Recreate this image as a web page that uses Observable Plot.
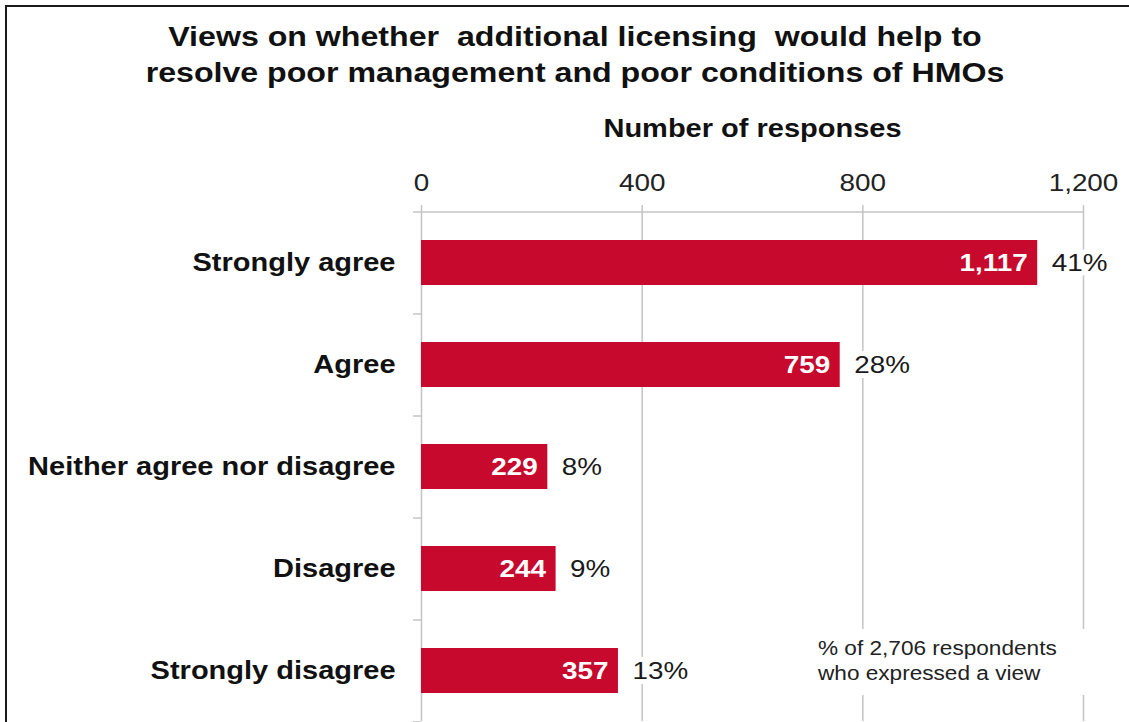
<!DOCTYPE html>
<html>
<head>
<meta charset="utf-8">
<script src="https://cdn.jsdelivr.net/npm/d3@7"></script>
<script src="https://cdn.jsdelivr.net/npm/@observablehq/plot@0.6"></script>
<style>
  html, body { margin: 0; padding: 0; background: #fff; }
  #wrap { position: relative; width: 1129px; height: 722px; overflow: hidden; background: #fff;
          font-family: "Liberation Sans", Arial, sans-serif; color: #111; }
  #frame { position: absolute; left: 5px; top: 5px; width: 1200px; height: 800px;
           border-left: 2px solid #1a1a1a; border-top: 2px solid #1a1a1a; pointer-events: none; z-index: 3; }
  #title { height: 100px; box-sizing: border-box; padding-top: 19px; margin-left: 20px; width: 1110px;
           font-size: 27px; font-weight: bold; line-height: 36px; text-align: center; white-space: pre; }
  #title div { transform: scaleX(1.19); transform-origin: center; }
  #note { position: absolute; left: 810px; top: 629px; width: 280px; height: 66px; background: #fff;
          box-sizing: border-box; padding: 7px 0 0 8px; font-size: 20px; line-height: 25px; color: #222; z-index: 2; }
  #note div { transform: scaleX(1.13); transform-origin: left center; white-space: nowrap; }
  #chart svg g[aria-label="x-axis label"] { font-weight: bold; font-size: 25px; fill: #111; }
</style>
</head>
<body>
<div id="wrap">
  <div id="frame"></div>
  <div id="title"><div>Views on whether  additional licensing  would help to</div><div>resolve poor management and poor conditions of HMOs</div></div>
  <div id="chart"></div>
  <div id="note"><div>% of 2,706 respondents</div><div>who expressed a view</div></div>
</div>
<script>
const categories = ["Strongly agree", "Agree", "Neither agree nor disagree", "Disagree", "Strongly disagree"];
const responses = [1117, 759, 229, 244, 357];
const percents = [41, 28, 8, 9, 13];
const xTicks = [0, 400, 800, 1200];
const axisTitle = "Number of responses";

const data = categories.map((c, i) => ({category: c, value: responses[i], pct: percents[i]}));

const W = 1129, H = 623, MT = 111, MB = 2, ML = 421, MR = 46;
const step = (H - MT - MB) / categories.length;
const grid = "#c4c4c4";
const red = "#c8092e";

const chart = Plot.plot({
  width: W,
  height: H,
  marginTop: MT,
  marginBottom: MB,
  marginLeft: ML,
  marginRight: MR,
  style: {fontFamily: "'Liberation Sans', Arial, sans-serif", fontSize: "24px", background: "transparent", color: "#222"},
  x: {domain: [0, 1200]},
  y: {domain: categories, paddingInner: 0.56, paddingOuter: 0.28},
  marks: [
    Plot.gridX({ticks: xTicks, stroke: grid, strokeOpacity: 1, strokeWidth: 1.5}),
    Plot.ruleY([categories[0]], {y: d => d, dy: -step / 2, insetLeft: -8, stroke: grid, strokeWidth: 1.5}),
    Plot.ruleY(categories.slice(1), {y: d => d, x1: 0, x2: 0, dy: -step / 2, insetLeft: -8, stroke: grid, strokeWidth: 1.5}),
    Plot.ruleY([categories[categories.length - 1]], {y: d => d, x1: 0, x2: 0, dy: step / 2, insetLeft: -8, stroke: grid, strokeWidth: 1.5}),
    Plot.axisX({anchor: "top", ticks: xTicks, tickFormat: d3.format(","), tickSize: 7, tickPadding: 14,
                stroke: grid, strokeWidth: 1.5, fill: "#222", fontSize: 24,
                label: axisTitle, labelAnchor: "center", labelOffset: 92, labelArrow: "none"}),
    Plot.axisY({tickSize: 0, tickPadding: 26, fontSize: 26, fontWeight: "bold", fill: "#111", label: null}),
    Plot.barX(data, {x: "value", y: "category", fill: red}),
    Plot.text(data, {x: "value", y: "category", text: d => d3.format(",")(d.value), textAnchor: "end", dx: -10,
                     fill: "white", fontWeight: "bold", fontSize: 24}),
    Plot.text(data, {x: "value", y: "category", text: d => d.pct + "%", textAnchor: "start", dx: 14,
                     fill: "#1a1a1a", fontSize: 24, stroke: "white", strokeWidth: 10, paintOrder: "stroke", strokeLinejoin: "round"})
  ]
});
document.getElementById("chart").appendChild(chart);

// widen glyphs to match the reference's horizontally stretched lettering
chart.querySelectorAll("text").forEach(t => {
  const g = t.closest("g[aria-label]");
  const lab = g ? g.getAttribute("aria-label") : "";
  const k = lab === "y-axis tick label" ? 1.115 : 1.16;
  const len = t.getComputedTextLength();
  if (len > 0) {
    t.setAttribute("textLength", (len * k).toFixed(1));
    t.setAttribute("lengthAdjust", "spacingAndGlyphs");
  }
});
</script>
</body>
</html>
